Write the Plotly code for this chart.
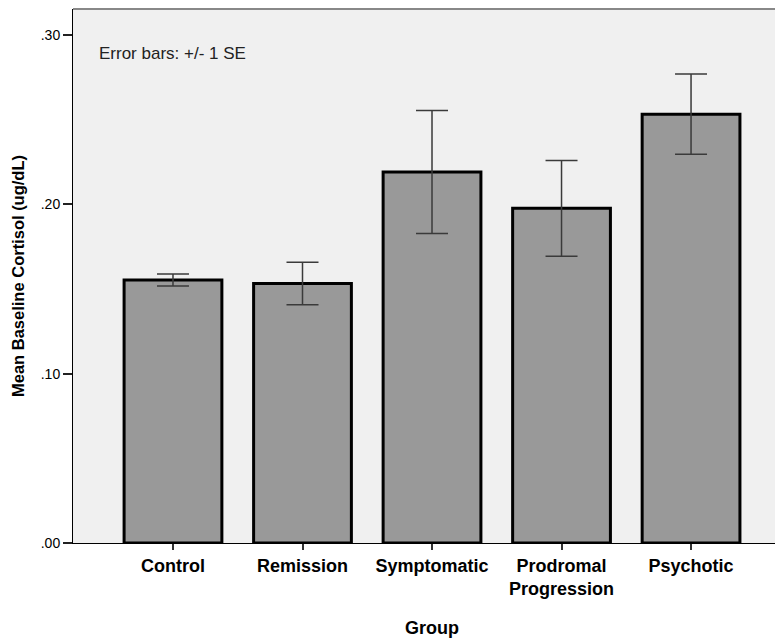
import plotly.graph_objects as go

groups = ["Control", "Remission", "Symptomatic", "Prodromal<br>Progression", "Psychotic"]
means = [0.1553, 0.1532, 0.2190, 0.1976, 0.2532]
se = [0.0035, 0.0125, 0.0363, 0.0283, 0.0237]
ytick_vals = [0.0, 0.1, 0.2, 0.3]
ytick_text = [".00", ".10", ".20", ".30"]

fig = go.Figure()
fig.add_trace(go.Bar(
    x=groups, y=means, width=0.755,
    marker=dict(color="#999999", line=dict(color="black", width=3)),
    error_y=dict(type="data", array=se, visible=True, color="#3a3a3a",
                 thickness=1.5, width=16),
))

fig.update_layout(
    width=775, height=630,
    margin=dict(l=65, r=0, t=1, b=95),
    paper_bgcolor="white", plot_bgcolor="#f0f0f0",
    showlegend=False,
    font=dict(family="Liberation Sans, Arial, sans-serif", color="black"),
    xaxis=dict(
        range=[-0.772, 4.71], showline=True, linecolor="black", linewidth=1,
        ticks="outside", ticklen=6, tickwidth=1.5, tickcolor="#333",
        tickfont=dict(size=18, family="Liberation Sans, Arial", weight="bold"),
        showgrid=False, zeroline=False, automargin=False,
    ),
    yaxis=dict(
        range=[0, 0.3153], showline=True, linecolor="black", linewidth=1,
        ticks="outside", ticklen=9, tickwidth=2, tickcolor="#222",
        tickvals=ytick_vals, ticktext=ytick_text,
        tickfont=dict(size=14),
        title=dict(text="<b>Mean Baseline Cortisol (ug/dL)</b>", font=dict(size=16.5), standoff=11),
        showgrid=False, zeroline=False, automargin=False,
    ),
)

fig.add_shape(type="line", xref="paper", yref="paper", x0=0, x1=1, y0=1, y1=1,
              line=dict(color="#888888", width=2))

fig.add_annotation(text="<b>Group</b>", xref="paper", yref="paper",
                   x=0.5056, y=-0.159, xanchor="center", yanchor="middle",
                   showarrow=False, font=dict(size=18, color="black"))

fig.add_annotation(text="Error bars: +/- 1 SE", xref="paper", yref="paper",
                   x=0.034, y=0.916, xanchor="left", yanchor="middle",
                   showarrow=False, font=dict(size=17, color="#222"))

fig.write_html("out.html")
